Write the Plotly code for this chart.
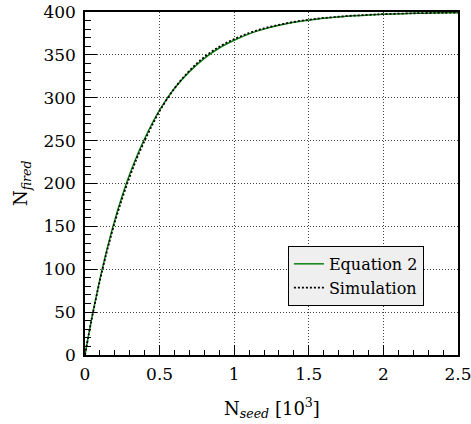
import plotly.graph_objects as go

# x in units of 10^3 seeds
x_eq = [0, 0.025, 0.05, 0.075, 0.1, 0.125, 0.15, 0.2, 0.25, 0.3, 0.35, 0.4, 0.45, 0.5,
        0.6, 0.7, 0.8, 0.9, 1.0, 1.1, 1.2, 1.3, 1.4, 1.5, 1.6, 1.7, 1.8, 1.9, 2.0,
        2.2, 2.4, 2.5]
y_eq = [0, 24, 47, 68, 88.5, 107, 125, 157.5, 186, 211, 233, 252.5, 270, 285.5,
        311, 330.5, 346, 358, 367, 374.5, 380, 384.5, 388, 390.5, 392.7, 394.3, 395.6,
        396.5, 397.3, 398.4, 399, 399.2]

x_sim = [0, 0.025, 0.05, 0.075, 0.1, 0.125, 0.15, 0.2, 0.25, 0.3, 0.35, 0.4, 0.45, 0.5,
         0.6, 0.7, 0.8, 0.9, 1.0, 1.1, 1.2, 1.3, 1.4, 1.5, 1.6, 1.7, 1.8, 1.9, 2.0,
         2.2, 2.4, 2.5]
y_sim = [0, 24, 46.5, 67, 87, 105.5, 123, 155, 183, 208, 230.5, 250, 268, 284.5,
         311, 331.5, 347.5, 359.5, 368.5, 375.5, 381, 385, 388.5, 391, 393, 394.5, 395.8,
         396.7, 397.5, 398.5, 399.1, 399.3]

x_ticks = [0, 0.5, 1, 1.5, 2, 2.5]
y_ticks = [0, 50, 100, 150, 200, 250, 300, 350, 400]

FONT = "DejaVu Serif"

fig = go.Figure()
fig.add_trace(go.Scatter(x=x_eq, y=y_eq, mode="lines", name="Equation 2",
                         line=dict(color="#0f7f0f", width=1.5, shape="spline")))
fig.add_trace(go.Scatter(x=x_sim, y=y_sim, mode="lines", name="Simulation",
                         line=dict(color="black", width=1.8, dash="2px,2px", shape="spline")))

axis_common = dict(
    showline=True, linecolor="black", linewidth=1.5, mirror=True,
    ticks="inside", tickcolor="black", tickwidth=1.2,
    showgrid=True, gridcolor="#444", griddash="1px,2px", gridwidth=1,
    zeroline=False, automargin=False, ticklabeloverflow="allow",
    tickfont=dict(family=FONT, size=17, color="black"),
)

fig.update_xaxes(range=[0, 2.5], tickvals=x_ticks, ticklen=10,
                 minor=dict(dtick=0.1, ticklen=5, ticks="inside", tickcolor="black", showgrid=False),
                 ticklabelstandoff=3, **axis_common)
fig.update_yaxes(range=[0, 400], tickvals=y_ticks, ticklen=12,
                 minor=dict(dtick=10, ticklen=6, ticks="inside", tickcolor="black", showgrid=False),
                 ticklabelstandoff=4, **axis_common)

fig.add_annotation(text="N<sub><i>fired</i></sub>", xref="paper", yref="paper",
                   x=-0.17, y=0.5, xanchor="center", yanchor="middle", textangle=-90,
                   showarrow=False, font=dict(family=FONT, size=18, color="black"))
fig.add_annotation(text="N<sub><i>seed</i></sub> [10<sup>3</sup>]", xref="paper", yref="paper",
                   x=0.5, y=-0.155, xanchor="center", yanchor="middle",
                   showarrow=False, font=dict(family=FONT, size=18, color="black"))

fig.update_layout(
    width=471, height=424,
    margin=dict(l=85, r=13, t=12, b=69),
    paper_bgcolor="white", plot_bgcolor="white",
    showlegend=True,
    legend=dict(x=0.544, y=0.318, xanchor="left", yanchor="top",
                bgcolor="#efefef", bordercolor="black", borderwidth=1,
                font=dict(family=FONT, size=16, color="black"),
                itemwidth=30, tracegroupgap=0),
    font=dict(family=FONT, color="black"),
)

fig.write_html("out.html", config={"displayModeBar": False},
               post_script="document.body.style.margin='0';document.body.style.overflow='hidden';")
